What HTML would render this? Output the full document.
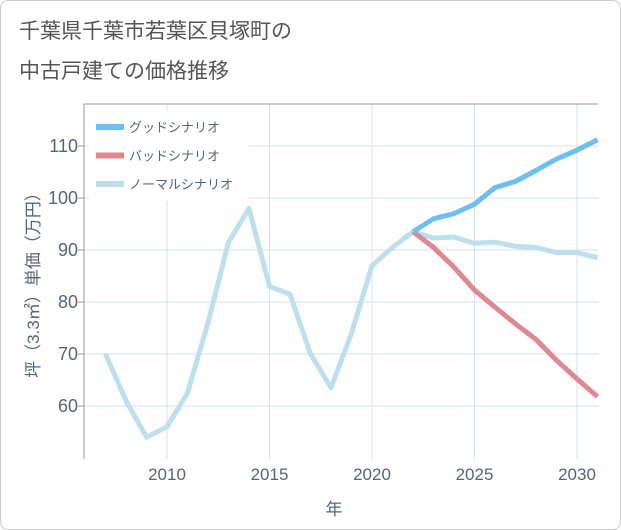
<!DOCTYPE html>
<html><head><meta charset="utf-8"><style>
body{margin:0;background:#fff}
#wrap{position:relative;width:619px;height:528px;border:1px solid #ccc;border-radius:8px;background:#fff;overflow:hidden;font-family:"Liberation Sans","Noto Sans CJK JP",sans-serif}
.t{position:absolute;left:18px;font-size:21px;color:#555}
</style></head><body>
<div id="wrap">
<div class="t" style="top:14px">千葉県千葉市若葉区貝塚町の</div>
<div class="t" style="top:54px">中古戸建ての価格推移</div>
<svg id="c" width="619" height="528" style="position:absolute;left:0;top:0"></svg>
</div>
<script>
const years=[2007,2008,2009,2010,2011,2012,2013,2014,2015,2016,2017,2018,2019,2020,2021,2022,2023,2024,2025,2026,2027,2028,2029,2030,2031];
const normal=[70,61,54,56,62.5,76,91.5,98,83,81.5,70,63.5,74,87,90.5,93.5,92.3,92.5,91.3,91.5,90.7,90.5,89.5,89.5,88.5];
const scenYears=[2022,2023,2024,2025,2026,2027,2028,2029,2030,2031];
const good=[93.5,96,97,98.8,102,103.2,105.3,107.5,109.2,111.2];
const bad=[93.5,90.5,86.7,82.3,79,75.8,72.8,68.8,65.2,61.8];
const xTicks=[2010,2015,2020,2025,2030];
const yTicks=[60,70,80,90,100,110];
const L=83,R=597,T=103,B=458;
const x=v=>166+(v-2010)*20.5;
const y=v=>405-(v-60)*5.2;
const s=document.getElementById('c');const NS='http://www.w3.org/2000/svg';
function add(tag,at,txt){const e=document.createElementNS(NS,tag);for(const k in at)e.setAttribute(k,at[k]);if(txt!==undefined)e.textContent=txt;s.appendChild(e);return e;}
xTicks.forEach(t=>{const g=add('line',{x1:x(t),x2:x(t),y1:T,y2:B,stroke:'#d6e3ee','stroke-width':1});


const l=add('text',{x:x(t),y:479,'text-anchor':'middle','font-size':17,fill:'#556677'},t);

});
yTicks.forEach(t=>{const g=add('line',{x1:L,x2:R,y1:y(t),y2:y(t),stroke:'#d6e3ee','stroke-width':1});


add('line',{x1:L-6,x2:L,y1:y(t),y2:y(t),stroke:'#999'});
const l=add('text',{x:L-6,y:y(t)+6,'text-anchor':'end','font-size':18,fill:'#556677'},t);

});
add('polyline',{points:`${L},${B} ${L},${T} ${R},${T}`,fill:'none',stroke:'#999'});
function line(xs,vs,c,n){const p=add('polyline',{points:xs.map((v,i)=>x(v)+','+y(vs[i])).join(' '),fill:'none',stroke:c,'stroke-width':5,'stroke-linejoin':'round'});

}
line(years,normal,'#bde0ef','normal-scenario-line');
line(scenYears,bad,'#e08890','bad-scenario-line');
line(scenYears,good,'#6bbff2','good-scenario-line');
add('rect',{x:88,y:110,width:160,height:90,fill:'#fff'});
[['グッドシナリオ','#6bbff2'],['バッドシナリオ','#e08890'],['ノーマルシナリオ','#bde0ef']].forEach((d,i)=>{const yy=126+i*28.5;
const m=add('line',{x1:95,x2:123,y1:yy,y2:yy,stroke:d[1],'stroke-width':6});


const t=add('text',{x:128,y:yy+5,'font-size':13,fill:'#556677'},d[0]);

});
const yt=add('text',{transform:'translate(38,280) rotate(-90)','text-anchor':'middle','font-size':17,fill:'#556677'},'坪（3.3㎡）単価（万円）');


const xt=add('text',{x:333,y:514,'text-anchor':'middle','font-size':17,fill:'#556677'},'年');


</script>
</body></html>
